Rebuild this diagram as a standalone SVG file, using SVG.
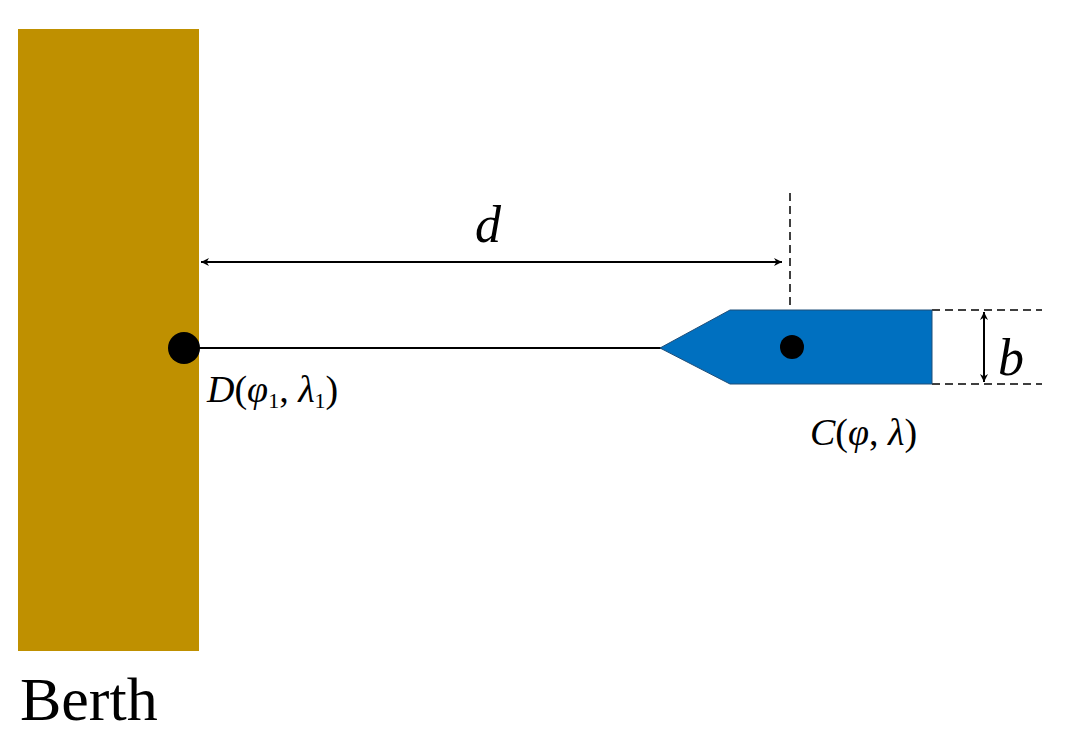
<svg xmlns="http://www.w3.org/2000/svg" width="1069" height="751" viewBox="0 0 1069 751">
<defs>
<marker id="ah" viewBox="0 0 10 10" refX="10" refY="5" markerWidth="8" markerHeight="8" orient="auto-start-reverse" markerUnits="userSpaceOnUse"><path d="M0,0 L10,5 L0,10 L3,5 Z" fill="#000"/></marker>
</defs>
<style>
.t{font-family:"Liberation Serif",serif;fill:#000}
.i{font-style:italic}
.ln{stroke:#000;stroke-width:2;fill:none}
.ds{stroke:#000;stroke-width:1.5;stroke-dasharray:8,5;fill:none}
</style>
<rect width="1069" height="751" fill="#fff"/>
<g id="berth"><rect x="18" y="29" width="181" height="622" fill="#BF9000"/><text class="t" x="20" y="720" font-size="62">Berth</text></g>
<g id="connectors">
<line class="ln" x1="199" y1="348" x2="662" y2="348"/>
<line class="ds" x1="790" y1="193" x2="790" y2="346"/>
<line class="ds" x1="932" y1="310" x2="1042" y2="310"/>
<line class="ds" x1="932" y1="384" x2="1042" y2="384"/>
<line x1="201" y1="262" x2="782" y2="262" stroke="#000" stroke-width="2" marker-start="url(#ah)" marker-end="url(#ah)"/>
<line x1="984" y1="312" x2="984" y2="382" stroke="#000" stroke-width="2" marker-start="url(#ah)" marker-end="url(#ah)"/>
</g>
<g id="ship"><polygon points="660,348 730,310 932,310 932,384 730,384" fill="#0070C0" stroke="#1F4E79" stroke-width="1"/><circle cx="792" cy="347" r="12" fill="#000"/></g>
<g id="pointD"><circle cx="184" cy="348" r="16" fill="#000"/><text class="t" x="207" y="402" font-size="38"><tspan class="i">D</tspan>(<tspan class="i">φ</tspan><tspan font-size="22" dy="6">1</tspan><tspan dy="-6">, </tspan><tspan class="i">λ</tspan><tspan font-size="22" dy="6">1</tspan><tspan dy="-6">)</tspan></text></g>
<g id="pointC"><text class="t" x="810" y="445" font-size="38"><tspan class="i">C</tspan>(<tspan class="i">φ</tspan>, <tspan class="i">λ</tspan>)</text></g>
<g id="labels"><text class="t i" x="475" y="242" font-size="52">d</text><text class="t i" x="998" y="375" font-size="52">b</text></g>
</svg>
